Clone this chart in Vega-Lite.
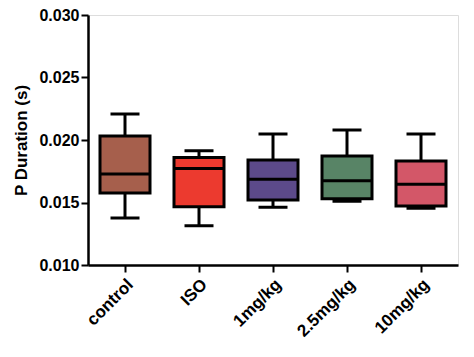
{
  "$schema": "https://vega.github.io/schema/vega-lite/v6.json",
  "width": 370,
  "height": 250,
  "autosize": {"type": "none"},
  "padding": {"left": 88, "top": 15, "right": 16, "bottom": 92},
  "background": "white",
  "data": {"values": [
    {"group": "control", "min": 0.01376, "q1": 0.01576, "median": 0.01728, "q3": 0.02032, "max": 0.02208},
    {"group": "ISO", "min": 0.01314, "q1": 0.01467, "median": 0.01773, "q3": 0.01861, "max": 0.01914},
    {"group": "1mg/kg", "min": 0.01462, "q1": 0.0152, "median": 0.01686, "q3": 0.0184, "max": 0.02048},
    {"group": "2.5mg/kg", "min": 0.0151, "q1": 0.0153, "median": 0.01674, "q3": 0.01872, "max": 0.0208},
    {"group": "10mg/kg", "min": 0.01454, "q1": 0.01472, "median": 0.01646, "q3": 0.01832, "max": 0.02048}
  ]},
  "encoding": {
    "x": {
      "field": "group", "type": "nominal", "sort": null,
      "scale": {"paddingInner": 0, "paddingOuter": 0},
      "axis": {
        "title": null, "labelAngle": -45, "labelAlign": "right", "labelBaseline": "top",
        "labelFont": "Liberation Sans", "labelFontWeight": "bold", "labelFontSize": 17, "labelColor": "black",
        "labelPadding": 4,
        "domainColor": "black", "domainWidth": 2.5, "tickColor": "black", "tickWidth": 2, "tickSize": 7
      }
    }
  },
  "layer": [
    {
      "mark": {"type": "rule", "color": "black", "strokeWidth": 3},
      "encoding": {
        "y": {
          "field": "min", "type": "quantitative",
          "scale": {"domain": [0.010, 0.030], "nice": false, "zero": false},
          "axis": {
            "title": "P Duration (s)", "values": [0.010, 0.015, 0.020, 0.025, 0.030], "format": ".3f",
            "grid": false,
            "labelFont": "Liberation Sans", "labelFontWeight": "bold", "labelFontSize": 16, "labelColor": "black",
            "titleFont": "Liberation Sans", "titleFontWeight": "bold", "titleFontSize": 17, "titleColor": "black",
            "titlePadding": 8,
            "domainColor": "black", "domainWidth": 2.5, "tickColor": "black", "tickWidth": 2, "tickSize": 7, "labelPadding": 2
          }
        },
        "y2": {"field": "max"}
      }
    },
    {
      "mark": {"type": "tick", "color": "black", "thickness": 3, "size": 29, "opacity": 1},
      "encoding": {"y": {"field": "min", "type": "quantitative"}}
    },
    {
      "mark": {"type": "tick", "color": "black", "thickness": 3, "size": 29, "opacity": 1},
      "encoding": {"y": {"field": "max", "type": "quantitative"}}
    },
    {
      "mark": {"type": "bar", "size": 50, "stroke": "black", "strokeWidth": 3},
      "encoding": {
        "y": {"field": "q1", "type": "quantitative"},
        "y2": {"field": "q3"},
        "color": {
          "field": "group", "type": "nominal", "sort": null, "legend": null,
          "scale": {"domain": ["control", "ISO", "1mg/kg", "2.5mg/kg", "10mg/kg"],
                    "range": ["#A65F4C", "#EC3A2F", "#5C4A8A", "#588466", "#D35768"]}
        }
      }
    },
    {
      "mark": {"type": "tick", "color": "black", "thickness": 3, "size": 50, "opacity": 1},
      "encoding": {"y": {"field": "median", "type": "quantitative"}}
    }
  ]
}
